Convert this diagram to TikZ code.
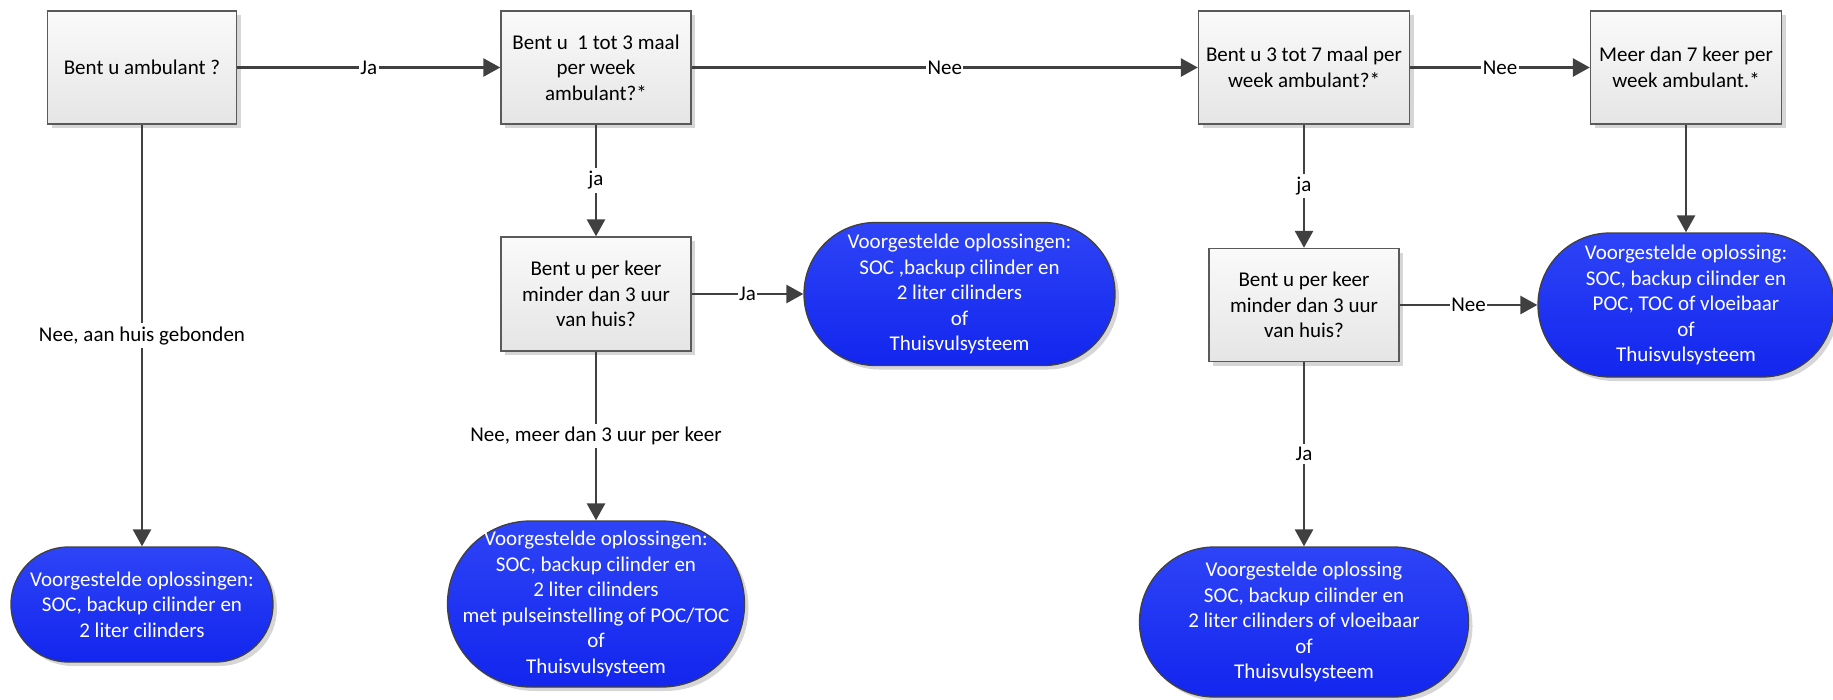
\documentclass[tikz,border=0pt]{standalone}
\usepackage{fontspec}
\setmainfont{Carlito}
\usetikzlibrary{arrows.meta,shadows}
\definecolor{linec}{HTML}{404040}
\definecolor{boxborder}{HTML}{5A5A5A}
\definecolor{boxtop}{HTML}{FAFAFA}
\definecolor{boxbot}{HTML}{E5E5E5}
\definecolor{soltop}{HTML}{2E44F6}
\definecolor{solbot}{HTML}{1226EE}
\definecolor{shadowc}{HTML}{D6D6D6}
\tikzset{
  base/.style={font=\fontsize{21}{25.5}\selectfont, align=center, inner sep=0pt},
  qbox/.style={base, draw=boxborder, line width=1.4pt, top color=boxtop, bottom color=boxbot,
    minimum height=113pt,
    drop shadow={shadow xshift=4pt, shadow yshift=-4pt, fill=shadowc, opacity=1}},
  sol/.style={base, draw=linec, line width=1.3pt, top color=soltop, bottom color=solbot, text=white,
    drop shadow={shadow xshift=4pt, shadow yshift=-4pt, fill=shadowc, opacity=1}},
  conn/.style={draw=linec, line width=2.75pt, -{Triangle[length=17pt,width=18pt]}},
  lbl/.style={base, fill=white, text=black, inner xsep=1.5pt, inner ysep=3pt}
}
\begin{document}
\begin{tikzpicture}[x=1pt,y=-1pt]
\useasboundingbox (0,0) rectangle (1833,699);
% question boxes
\node[qbox, minimum width=189pt] (b1) at (142,67.5) {Bent u ambulant ?};
\node[qbox, minimum width=190pt] (b2) at (596,67.5) {Bent u~ 1 tot 3 maal\\per week\\ambulant?*};
\node[qbox, minimum width=211pt] (b3) at (1304,67.5) {Bent u 3 tot 7 maal per\\week ambulant?*};
\node[qbox, minimum width=191pt] (b4) at (1686,67.5) {Meer dan 7 keer per\\week ambulant.*};
\node[qbox, minimum width=190pt, minimum height=114pt] (b5) at (596,294) {Bent u per keer\\minder dan 3 uur\\van huis?};
\node[qbox, minimum width=190pt] (b6) at (1304,305) {Bent u per keer\\minder dan 3 uur\\van huis?};
% solutions
\node[sol, minimum width=262pt, minimum height=115pt, rounded corners=57.4pt] (s1) at (142,604.5)
  {Voorgestelde oplossingen:\\SOC, backup cilinder en\\2 liter cilinders};
\node[sol, minimum width=297pt, minimum height=166pt, rounded corners=82.9pt] (s2) at (596,604)
  {Voorgestelde oplossingen:\\SOC, backup cilinder en\\2 liter cilinders\\met pulseinstelling of POC/TOC\\of\\Thuisvulsysteem};
\node[sol, minimum width=311pt, minimum height=143pt, rounded corners=71.4pt] (sA) at (959.5,294)
  {Voorgestelde oplossingen:\\SOC ,backup cilinder en\\2 liter cilinders\\of\\Thuisvulsysteem};
\node[sol, minimum width=296pt, minimum height=144pt, rounded corners=71.9pt] (sR) at (1686,305)
  {Voorgestelde oplossing:\\SOC, backup cilinder en\\POC, TOC of vloeibaar\\of\\Thuisvulsysteem};
\node[sol, minimum width=329pt, minimum height=150pt, rounded corners=74.9pt] (s3) at (1304,622)
  {Voorgestelde oplossing\\SOC, backup cilinder en\\2 liter cilinders of vloeibaar\\of\\Thuisvulsysteem};
% connectors
\draw[conn] (b1.east) -- node[lbl] (l1) {Ja} (b2.west);
\draw[conn] (b2.east) -- node[lbl] (l2) {Nee} (b3.west);
\draw[conn] (b3.east) -- node[lbl] (l3) {Nee} (b4.west);
\draw[conn] (b1.south) -- node[lbl] (l4) {Nee, aan huis gebonden} (s1.north);
\draw[conn] (b2.south) -- node[lbl] (l5) {ja} (b5.north);
\draw[conn] (b5.east) -- node[lbl] (l6) {Ja} (sA.west);
\draw[conn] (b5.south) -- node[lbl] (l7) {Nee, meer dan 3 uur per keer} (s2.north);
\draw[conn] (b3.south) -- node[lbl] (l8) {ja} (b6.north);
\draw[conn] (b6.east) -- node[lbl] (l9) {Nee} (sR.west);
\draw[conn] (b6.south) -- node[lbl] (l10) {Ja} (s3.north);
\draw[conn] (b4.south) -- (sR.north);
\end{tikzpicture}
\end{document}
